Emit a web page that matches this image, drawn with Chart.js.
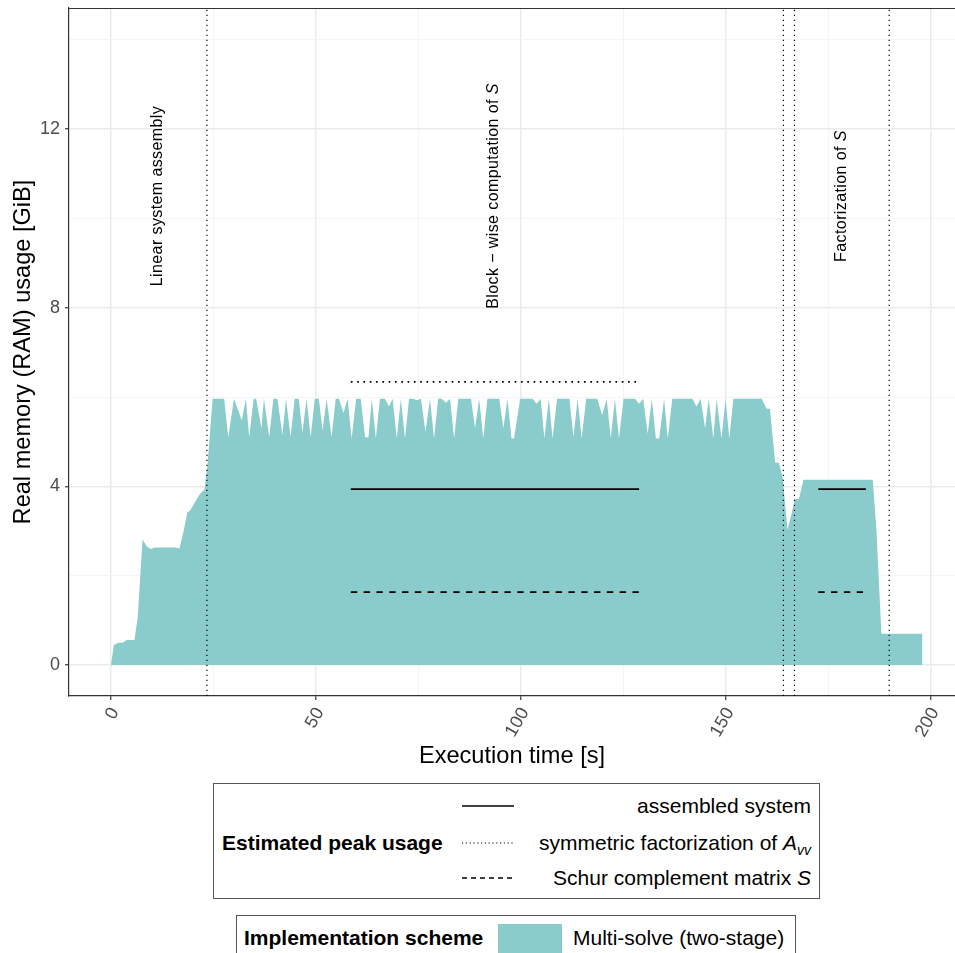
<!DOCTYPE html>
<html><head><meta charset="utf-8">
<script src="https://cdn.jsdelivr.net/npm/chart.js"></script>
<style>
html,body{margin:0;padding:0;background:#fff;overflow:hidden;width:955px;height:953px;font-family:'Liberation Sans',Arial,sans-serif;}
#wrap{position:absolute;left:0;top:0;width:955px;height:780px;}
.box{position:absolute;border:1px solid #555;box-sizing:border-box;overflow:hidden;}
.t{position:absolute;font-size:21px;line-height:24px;white-space:nowrap;color:#000;}
.b{font-weight:bold;}
</style></head><body>
<div id="wrap"><canvas id="c" width="955" height="780"></canvas></div>

<div class="box" style="left:213px;top:783px;width:607px;height:116px;">
  <div class="t b" style="left:8px;top:47px;">Estimated peak usage</div>
  <svg style="position:absolute;left:248px;top:0;" width="52" height="114">
    <line x1="0" y1="22" x2="52" y2="22" stroke="#000" stroke-width="1.4"/>
    <line x1="0" y1="59" x2="52" y2="59" stroke="#000" stroke-width="1.2" stroke-dasharray="1.2,2.6"/>
    <line x1="0" y1="94" x2="52" y2="94" stroke="#000" stroke-width="1.4" stroke-dasharray="5,4"/>
  </svg>
  <div class="t" style="right:8px;top:10px;">assembled system</div>
  <div class="t" style="right:8px;top:47px;">symmetric factorization of <i>A</i><sub style="font-size:14px;"><i>vv</i></sub></div>
  <div class="t" style="right:8px;top:82px;">Schur complement matrix <i>S</i></div>
</div>

<div class="box" style="left:236px;top:915px;width:560px;height:60px;">
  <div class="t b" style="left:7px;top:10px;">Implementation scheme</div>
  <div style="position:absolute;left:261px;top:8px;width:64px;height:30px;background:#89cccb;"></div>
  <div class="t" style="left:336px;top:10px;">Multi-solve (two-stage)</div>
</div>

<script>
// ---- measured memory usage (Multi-solve, two-stage) ----
const timeSec = [0,0.7,1.8,2.9,3.8,5.7,6.5,7.7,8.7,9.7,10.7,15.6,16.7,17.6,18.6,19.4,20.5,21.7,22.8,23.5,24.8,27.6,28.6,30.0,31.9,32.9,33.7,34.8,35.4,36.7,37.3,38.6,39.6,40.6,41.8,42.7,43.8,44.8,45.8,46.7,47.7,48.7,49.7,50.7,51.6,52.6,53.8,54.8,55.6,56.7,57.7,58.7,59.8,60.9,62.0,62.8,63.6,64.6,65.6,66.8,67.8,68.7,69.7,70.7,71.7,72.7,73.7,74.7,75.6,76.7,77.8,78.8,79.8,80.6,81.7,82.7,83.7,84.7,87.8,88.8,89.8,90.8,91.8,94.7,95.7,96.7,97.7,98.3,99.8,102.8,103.8,104.8,105.7,106.8,107.7,108.8,111.8,112.8,113.8,114.8,115.9,118.6,119.8,120.9,121.9,122.9,123.9,125.0,127.8,128.8,129.8,130.9,131.9,132.9,133.7,134.9,135.8,136.9,141.8,142.8,143.8,144.9,145.8,146.9,147.7,148.9,149.9,150.8,151.8,158.7,159.9,160.7,162.0,162.9,163.8,165.0,166.0,166.8,167.8,168.9,185.8,186.7,187.9,197.9];
const memGiB = [0,0.45,0.50,0.50,0.56,0.56,1.04,2.81,2.66,2.60,2.63,2.63,2.61,2.95,3.41,3.47,3.65,3.83,3.93,4.44,5.96,5.96,5.10,5.96,5.48,5.96,5.10,5.96,5.96,5.30,5.96,5.10,5.96,5.96,5.15,5.96,5.10,5.96,5.96,5.20,5.96,5.10,5.96,5.96,5.25,5.96,5.10,5.96,5.96,5.64,5.96,5.07,5.96,5.96,5.10,5.10,5.96,5.07,5.96,5.96,5.79,5.96,5.07,5.96,5.07,5.96,5.96,5.93,5.96,5.22,5.96,5.07,5.96,5.96,5.87,5.96,5.07,5.96,5.96,5.30,5.96,5.07,5.96,5.96,5.30,5.96,5.07,5.07,5.96,5.96,5.85,5.96,5.07,5.96,5.07,5.96,5.96,5.10,5.96,5.07,5.96,5.96,5.59,5.96,5.07,5.96,5.07,5.96,5.96,5.85,5.96,5.18,5.96,5.07,5.07,5.96,5.07,5.96,5.96,5.79,5.96,5.30,5.96,5.07,5.96,5.07,5.96,5.07,5.96,5.96,5.74,5.74,4.53,4.53,4.21,3.02,3.39,3.71,3.73,4.15,4.15,3.0,0.70,0.70];

// ---- phase boundaries and labels ----
const phaseBounds = [23.4, 164.0, 166.7, 189.8];
const phaseLabels = ['Linear system assembly', 'Block \u2212 wise computation of ', 'Factorization of '];
const phaseLabelItalic = ['', 'S', 'S'];
const phaseLabelX = [11.3, 93.4, 178.3];
const phaseLabelY = [10.5, 10.5, 10.5];

// ---- estimated peak usage ----
const estWindowStart = [58.5, 172.5];
const estWindowEnd = [128.8, 184.1];
const estAssembled = [3.94, 3.94];
const estFactorization = [6.34, null];
const estSchur = [1.63, 1.63];

// ---- axes ----
const xTicks = [0,25,50,75,100,125,150,175,200];
const yTicks = [0,2,4,6,8,10,12,14];
const xMin = -10.24, xMax = 205.85, yMin = -0.694, yMax = 14.71;

const FONT = "'Liberation Sans', Arial, sans-serif";
const datasets = [];

datasets.push({
  label: 'Multi-solve (two-stage)',
  data: timeSec.map((t,i)=>({x:t, y:memGiB[i]})),
  fill: 'origin', backgroundColor: '#89cccb', borderWidth: 0,
  pointRadius: 0, tension: 0, order: 10
});

phaseBounds.forEach(b => datasets.push({
  data: [{x:b,y:yMin},{x:b,y:yMax}],
  borderColor: '#000', borderWidth: 1.2, borderDash: [1.2, 3.8],
  pointRadius: 0, fill: false, order: 1
}));

function addEst(vals, dash){
  vals.forEach((v,i)=>{
    if (v === null) return;
    datasets.push({
      data: [{x:estWindowStart[i],y:v},{x:estWindowEnd[i],y:v}],
      borderColor:'#000', borderWidth:1.7, borderDash: dash, borderCapStyle:'butt',
      pointRadius:0, fill:false, order:1
    });
  });
}
addEst(estAssembled, []);
addEst(estFactorization, [1.7, 4.6]);
addEst(estSchur, [6.4, 6.4]);

const overlay = {
  id: 'overlay',
  afterDatasetsDraw(chart){
    const {ctx, chartArea:a, scales:{x, y}} = chart;
    ctx.save();
    ctx.strokeStyle = '#333'; ctx.lineWidth = 1.2;
    ctx.beginPath(); ctx.moveTo(a.left, a.top + 0.5); ctx.lineTo(a.right, a.top + 0.5); ctx.stroke();
    ctx.fillStyle = '#000';
    const normal = '16px ' + FONT, ital = 'italic 16px ' + FONT;
    phaseLabels.forEach((txt, i) => {
      const px = x.getPixelForValue(phaseLabelX[i]);
      const py = y.getPixelForValue(phaseLabelY[i]);
      ctx.save();
      ctx.translate(px, py); ctx.rotate(-Math.PI/2);
      ctx.letterSpacing = '0.4px';
      ctx.textBaseline = 'middle'; ctx.textAlign = 'left';
      ctx.font = normal; const w1 = ctx.measureText(txt).width;
      ctx.font = ital; const w2 = phaseLabelItalic[i] ? ctx.measureText(phaseLabelItalic[i]).width : 0;
      const sx = -(w1 + w2) / 2;
      ctx.font = normal; ctx.fillText(txt, sx, 0);
      if (phaseLabelItalic[i]) { ctx.font = ital; ctx.fillText(phaseLabelItalic[i], sx + w1, 0); }
      ctx.restore();
    });
    ctx.restore();
  }
};

new Chart(document.getElementById('c'), {
  type: 'line',
  data: { datasets },
  plugins: [overlay],
  options: {
    responsive: false, animation: false, devicePixelRatio: 1,
    layout: { padding: { top: 8, right: 0, bottom: 0, left: 0 } },
    plugins: { legend: { display: false }, tooltip: { enabled: false } },
    scales: {
      x: {
        type: 'linear', min: xMin, max: xMax,
        afterBuildTicks: s => { s.ticks = xTicks.map(v => ({value: v})); },
        afterFit: s => { s.height = 84; s.paddingLeft = 0; s.paddingRight = 0; },
        border: { color: '#333', width: 1.2 },
        grid: {
          color: c => (c.tick && c.tick.value % 50 === 0) ? '#ebebeb' : '#f2f2f2',
          lineWidth: c => (c.tick && c.tick.value % 50 === 0) ? 1.5 : 0.8,
          tickColor: c => (c.tick && c.tick.value % 50 === 0) ? '#333' : 'rgba(0,0,0,0)',
          tickLength: 4, tickWidth: 1.2
        },
        ticks: {
          autoSkip: false, minRotation: 60, maxRotation: 60, padding: 4, labelOffset: 4,
          color: '#4d4d4d', font: { family: FONT, size: 18 },
          callback: v => (v % 50 === 0 ? String(v) : '')
        },
        title: { display: true, text: 'Execution time [s]', color: '#000',
          font: { family: FONT, size: 23.6 }, padding: { top: 0, bottom: 9.6 } }
      },
      y: {
        type: 'linear', min: yMin, max: yMax,
        afterBuildTicks: s => { s.ticks = yTicks.map(v => ({value: v})); },
        afterFit: s => { s.width = 69; s.paddingTop = 0; s.paddingBottom = 0; },
        border: { color: '#333', width: 1.2 },
        grid: {
          color: c => (c.tick && c.tick.value % 4 === 0) ? '#ebebeb' : '#f2f2f2',
          lineWidth: c => (c.tick && c.tick.value % 4 === 0) ? 1.5 : 0.8,
          tickColor: c => (c.tick && c.tick.value % 4 === 0) ? '#333' : 'rgba(0,0,0,0)',
          tickLength: 4, tickWidth: 1.2
        },
        ticks: {
          autoSkip: false, padding: 5,
          color: '#4d4d4d', font: { family: FONT, size: 18 },
          callback: v => (v % 4 === 0 ? String(v) : '')
        },
        title: { display: true, text: 'Real memory (RAM) usage [GiB]', color: '#000',
          font: { family: FONT, size: 23.6 }, padding: { top: 9, bottom: 0 } }
      }
    }
  }
});
</script>
</body></html>
